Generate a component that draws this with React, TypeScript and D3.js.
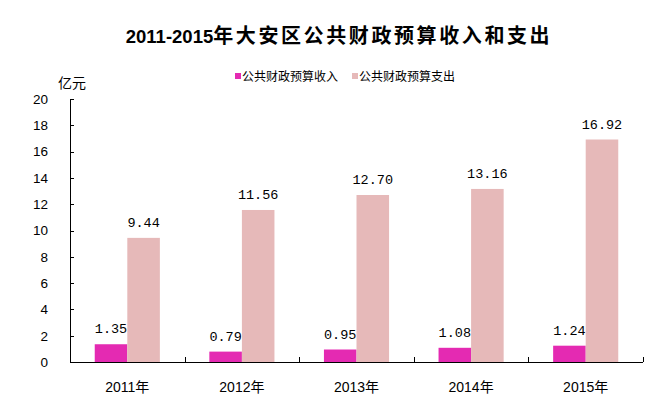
import * as d3 from 'd3'

const years = ['2011年', '2012年', '2013年', '2014年', '2015年']
const seriesNames = ['公共财政预算收入', '公共财政预算支出']
const income = [1.35, 0.79, 0.95, 1.08, 1.24]
const expense = [9.44, 11.56, 12.7, 13.16, 16.92]
const yTicks = [0, 2, 4, 6, 8, 10, 12, 14, 16, 18, 20]

const colors = ['#E42AB2', '#E6B9B9']
const W = 652
const H = 407
const cjk = '"Noto Sans CJK SC", sans-serif'
const num = '"Liberation Sans", "Noto Sans CJK SC", sans-serif'
const mono = '"Liberation Mono", "DejaVu Sans Mono", monospace'

export default function App() {
  const margin = { left: 70, right: 9, top: 99, bottom: 45 }
  const x0 = d3.scaleBand().domain(years).range([margin.left, W - margin.right]).padding(0)
  const x1 = d3.scaleBand().domain(seriesNames).range([0, x0.bandwidth()]).paddingInner(0).paddingOuter(0.76)
  const y = d3.scaleLinear().domain([0, 20]).range([H - margin.bottom, margin.top])
  const values = [income, expense]
  const baseY = y(0)

  return (
    <svg width={W} height={H} style={{ position: 'absolute', left: 0, top: 0, background: '#fff' }}>
      {/* title */}
      <text x={339} y={43} textAnchor="middle" fontWeight="bold" fill="#000">
        <tspan fontFamily={num} fontSize={18.5}>2011-2015</tspan>
        <tspan fontFamily={cjk} fontSize={20} letterSpacing={2.6}>年大安区公共财政预算收入和支出</tspan>
      </text>

      {/* legend */}
      {seriesNames.map((s, i) => {
        const lx = i === 0 ? 235 : 352
        return (
          <g key={s}>
            <rect x={lx} y={73} width={6} height={6} fill={colors[i]} />
            <text x={lx + 7} y={81} fontFamily={cjk} fontSize={12} fill="#000">{s}</text>
          </g>
        )
      })}

      <text x={58} y={88} fontFamily={cjk} fontSize={14} fill="#000">亿元</text>

      {/* bars */}
      {years.map((yr, ci) => (
        <g key={yr} transform={`translate(${x0(yr)},0)`}>
          {seriesNames.map((s, si) => {
            const v = values[si][ci]
            const bx = x1(s)!
            return (
              <g key={s}>
                <rect x={bx} y={y(v)} width={x1.bandwidth()} height={baseY - y(v)} fill={colors[si]} />
                <text x={bx + x1.bandwidth() / 2} y={y(v) - 11} textAnchor="middle" fontFamily={mono} fontSize={13.5} fill="#000">
                  {v.toFixed(2)}
                </text>
              </g>
            )
          })}
        </g>
      ))}

      {/* y axis */}
      <line x1={margin.left + 0.5} x2={margin.left + 0.5} y1={y(20)} y2={baseY} stroke="#000" />
      {yTicks.map(t => (
        <g key={t}>
          <line x1={margin.left} x2={margin.left + 4} y1={Math.round(y(t)) + 0.5} y2={Math.round(y(t)) + 0.5} stroke="#000" />
          <text x={48} y={y(t)} dy="0.36em" textAnchor="end" fontFamily={num} fontSize={13.5} fill="#000">{t}</text>
        </g>
      ))}

      {/* x axis */}
      <line x1={margin.left} x2={W - margin.right} y1={Math.round(baseY) + 0.5} y2={Math.round(baseY) + 0.5} stroke="#000" />
      {[...years.map(yr => x0(yr)!), W - margin.right].map((tx, i) => (
        <line key={i} x1={Math.round(tx) + 0.5} x2={Math.round(tx) + 0.5} y1={baseY - 5} y2={baseY} stroke="#000" />
      ))}
      {years.map(yr => (
        <text key={yr} x={x0(yr)! + x0.bandwidth() / 2} y={392} textAnchor="middle" fontFamily={num} fontSize={14} fill="#000">{yr}</text>
      ))}
    </svg>
  )
}
